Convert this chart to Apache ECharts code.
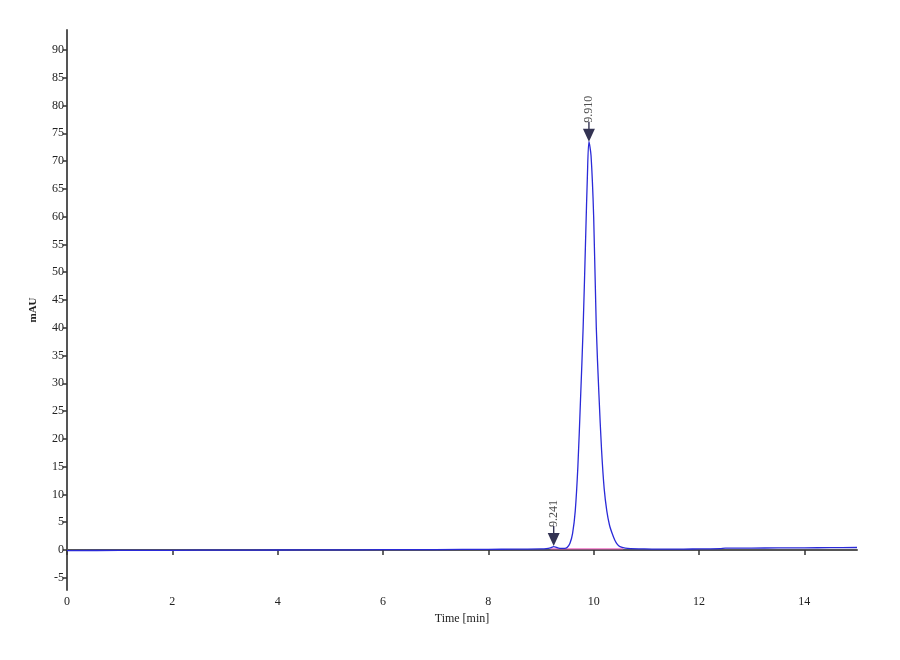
<!DOCTYPE html>
<html>
<head>
<meta charset="utf-8">
<script src="https://cdn.jsdelivr.net/npm/echarts@6/dist/echarts.min.js"></script>
<style>
html,body{margin:0;padding:0;background:#fff;}
#chart{width:900px;height:660px;}
</style>
</head>
<body>
<div id="chart"></div>
<script>
// Chromatogram trace: time (min), signal (mAU)
const times = [0, 1, 2, 3, 4, 5, 6, 7, 8, 8.5, 9.0, 9.1, 9.18, 9.241, 9.3, 9.38, 9.45, 9.5, 9.55, 9.6, 9.65, 9.7, 9.75, 9.8, 9.85, 9.88, 9.91, 9.95, 10.0, 10.05, 10.1, 10.15, 10.2, 10.25, 10.3, 10.35, 10.4, 10.45, 10.5, 10.6, 10.7, 10.9, 11.2, 11.6, 12.0, 12.4, 12.5, 13.0, 13.5, 14.0, 14.5, 15.0];
const signal = [-0.1, -0.08, -0.05, -0.02, 0.0, 0.02, 0.05, 0.08, 0.12, 0.15, 0.2, 0.25, 0.4, 0.6, 0.45, 0.3, 0.3, 0.5, 1.2, 3.0, 7.0, 15.0, 27.0, 40.0, 57.0, 67.0, 73.5, 71.0, 60.0, 40.0, 28.0, 18.0, 11.0, 7.0, 4.5, 3.0, 1.8, 1.0, 0.6, 0.35, 0.25, 0.2, 0.15, 0.15, 0.2, 0.25, 0.35, 0.35, 0.38, 0.4, 0.42, 0.45];
// Integration baseline (pink)
const baseTimes = [9.18, 10.56];
const baseValues = [0.2, 0.2];
// Peak annotations
const peakTimes = [9.241, 9.910];
const peakHeights = [0.7, 73.5];
const peakLabels = ['9.241', '9.910'];
// Axis ticks
const xTicks = [0, 2, 4, 6, 8, 10, 12, 14];
const yTicks = [-5, 0, 5, 10, 15, 20, 25, 30, 35, 40, 45, 50, 55, 60, 65, 70, 75, 80, 85, 90];

const trace = times.map((t, i) => [t, signal[i]]);
const baseline = baseTimes.map((t, i) => [t, baseValues[i]]);
const peaks = peakTimes.map((t, i) => ({value: [t, peakHeights[i]], label: {formatter: peakLabels[i]}}));

const font = 'Liberation Serif';
const chart = echarts.init(document.getElementById('chart'));
chart.setOption({
  animation: false,
  backgroundColor: '#ffffff',
  grid: {left: 67, right: 43, top: 30, bottom: 70},
  xAxis: {
    type: 'value', min: 0, max: 15,
    name: 'Time [min]', nameLocation: 'middle', nameGap: 22,
    nameTextStyle: {fontFamily: font, fontSize: 12, color: '#222'},
    axisLine: {lineStyle: {color: '#555', width: 2}},
    axisTick: {customValues: xTicks, length: 5, lineStyle: {color: '#333', width: 1.5}},
    axisLabel: {customValues: xTicks, fontFamily: font, fontSize: 12, color: '#222', margin: 6},
    splitLine: {show: false}
  },
  yAxis: {
    type: 'value', min: -7.2, max: 93.6,
    name: 'mAU', nameLocation: 'middle', nameGap: 28,
    nameTextStyle: {fontFamily: font, fontSize: 11, fontWeight: 'bold', color: '#222'},
    axisLine: {show: true, lineStyle: {color: '#555', width: 2}},
    axisTick: {show: true, customValues: yTicks, length: 4, lineStyle: {color: '#333', width: 1.5}},
    axisLabel: {customValues: yTicks, fontFamily: font, fontSize: 12, color: '#222', margin: 3},
    splitLine: {show: false}
  },
  series: [
    {
      type: 'line', data: baseline, symbol: 'none', z: 1,
      lineStyle: {color: '#ee55bb', width: 1}
    },
    {
      type: 'line', data: trace, symbol: 'none', smooth: 0.3, z: 2,
      lineStyle: {color: '#2a2ad8', width: 1.3}
    },
    {
      type: 'scatter', data: peaks, z: 3,
      symbol: 'path://M0,7 L12,7 L6,20 Z M5.3,0 L6.7,0 L6.7,7 L5.3,7 Z',
      symbolKeepAspect: false,
      symbolSize: [12, 20],
      symbolOffset: [0, -10],
      itemStyle: {color: '#000028'},
      label: {
        show: true, position: 'top', rotate: 90, distance: -1,
        align: 'left', verticalAlign: 'middle',
        fontFamily: font, fontSize: 12, color: '#222'
      }
    }
  ]
});
</script>
</body>
</html>
